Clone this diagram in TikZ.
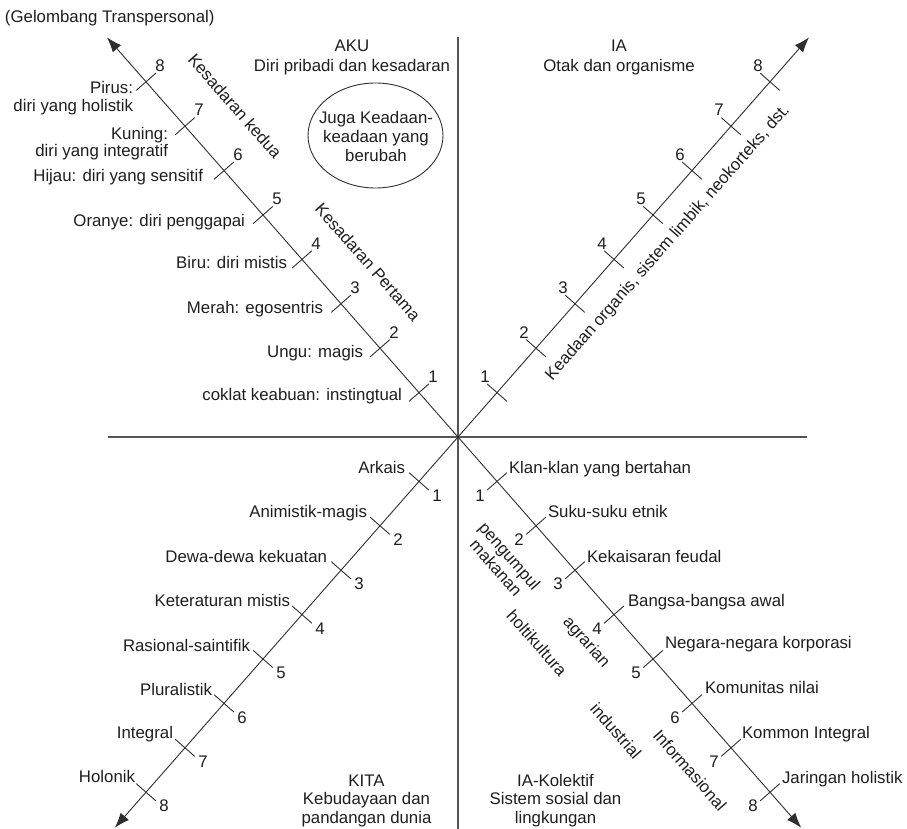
\documentclass[tikz,border=0pt]{standalone}
\usepackage{fontspec}
\setmainfont{Liberation Sans}
\usetikzlibrary{arrows.meta,calc,shapes.geometric}
\definecolor{inkline}{HTML}{2E2E2E}
\definecolor{inkrule}{HTML}{555555}
\definecolor{inktext}{HTML}{1E1E1E}
\begin{document}
\begin{tikzpicture}[x=1pt,y=-1pt,
  txt/.style={inner sep=0pt, outer sep=0pt, text=inktext, font=\fontsize{16.8}{19.5}\selectfont},
  heading/.style={txt, align=center, anchor=base},
  lbl/.style={txt, font=\fontsize{16.8}{17.5}\selectfont},
  lblL/.style={lbl, align=right, anchor=base east},
  lblR/.style={lbl, align=left, anchor=base west},
  num/.style={txt},
  slantdown/.style={txt, rotate=-48.7, align=center, font=\fontsize{16.8}{18}\selectfont},
  slantup/.style={txt, rotate=48.7},
  axis/.style={draw=inkline, line width=0.9pt, -{Latex[length=15pt,width=11pt]}},
  tickmark/.style={draw=inkline, line width=0.9pt},
  rule/.style={draw=inkrule, line width=1.4pt},
  bubble/.style={draw=inkline, line width=0.9pt},
]
\useasboundingbox (0,0) rectangle (907,829);

% centre of the quadrants and the two dividing rules
\coordinate (O) at (458,437);
\coordinate (rule-top) at (458,37);
\coordinate (rule-bot) at (458,829);
\coordinate (rule-left) at (108,437);
\coordinate (rule-right) at (807,437);
\draw[rule] (rule-top) -- (rule-bot);
\draw[rule] (rule-left) -- (rule-right);

% four diagonal axes; one level step is (39, 44.4)
\path (O) ++(-351,-399.6) coordinate (ul-tip);
\path (O) ++(351,-399.6) coordinate (ur-tip);
\path (O) ++(-343.2,390.7) coordinate (ll-tip);
\path (O) ++(343.2,390.7) coordinate (lr-tip);
\draw[axis] (O) -- (ul-tip);
\draw[axis] (O) -- (ur-tip);
\draw[axis] (O) -- (ll-tip);
\draw[axis] (O) -- (lr-tip);

% level ticks and their numbers
\foreach \k in {1,...,8}{
  \path (O) ++(-39*\k,-44.4*\k) coordinate (ul\k);
  \path (O) ++(39*\k,-44.4*\k) coordinate (ur\k);
  \path (O) ++(-39*\k,44.4*\k) coordinate (ll\k);
  \path (O) ++(39*\k,44.4*\k) coordinate (lr\k);
  \draw[tickmark] ($(ul\k)+(-9.8,8.6)$) -- ($(ul\k)+(9.8,-8.6)$);
  \draw[tickmark] ($(ur\k)+(-9.8,-8.6)$) -- ($(ur\k)+(9.8,8.6)$);
  \draw[tickmark] ($(ll\k)+(-9.8,-8.6)$) -- ($(ll\k)+(9.8,8.6)$);
  \draw[tickmark] ($(lr\k)+(-9.8,8.6)$) -- ($(lr\k)+(9.8,-8.6)$);
  \node[num] (ul-n\k) at ($(ul\k)+(14,-16)$) {\k};
  \node[num] (ur-n\k) at ($(ur\k)+(-12,-16)$) {\k};
  \node[num] (ll-n\k) at ($(ll\k)+(18,14)$) {\k};
  \node[num] (lr-n\k) at ($(lr\k)+(-17,14)$) {\k};
}

% quadrant headings (anchored on the baseline of their last line)
\node[txt, anchor=base west] (wave) at (5,23) {(Gelombang Transpersonal)};
\node[heading, font=\fontsize{16.8}{20}\selectfont] (aku) at (352,72) {AKU\\Diri pribadi dan kesadaran};
\node[heading] (ia) at (619,71.5) {IA\\Otak dan organisme};
\node[heading, font=\fontsize{16.8}{18.5}\selectfont] (kita) at (366.5,823) {KITA\\Kebudayaan dan\\pandangan dunia};
\node[heading, font=\fontsize{16.8}{18.5}\selectfont] (iak) at (555.5,823) {IA-Kolektif\\Sistem sosial dan\\lingkungan};

% states bubble
\node[txt, align=center, font=\fontsize{16.8}{19}\selectfont]
      (states) at (376,136) {Juga Keadaan-\\keadaan yang\\berubah};
\draw[bubble] (375.5,135.5) ellipse [x radius=67.5pt, y radius=52.5pt];

% upper-left levels
\node[lblL] (ul-t1) at (402,400) {coklat keabuan: instingtual};
\node[lblL] (ul-t2) at (363,357) {Ungu: magis};
\node[lblL] (ul-t3) at (323,313) {Merah: egosentris};
\node[lblL] (ul-t4) at (287,268) {Biru: diri mistis};
\node[lblL] (ul-t5) at (245,226) {Oranye: diri penggapai};
\node[lblL] (ul-t6) at (203,182) {Hijau: diri yang sensitif};
\node[lblL] (ul-t7) at (168,157) {Kuning:\\diri yang integratif};
\node[lblL] (ul-t8) at (133,111.5) {Pirus:\\diri yang holistik};
\node[slantdown] (tier2) at (235,106) {Kesadaran kedua};
\node[slantdown] (tier1) at (368,262) {Kesadaran Pertama};

% upper-right axis caption
\node[slantup] (organic) at (668,243) {Keadaan organis, sistem limbik, neokorteks, dst.};

% lower-left levels
\node[lblL] (ll-t1) at (405,473) {Arkais};
\node[lblL] (ll-t2) at (367,517) {Animistik-magis};
\node[lblL] (ll-t3) at (327,562) {Dewa-dewa kekuatan};
\node[lblL] (ll-t4) at (290,606) {Keteraturan mistis};
\node[lblL] (ll-t5) at (250,651) {Rasional-saintifik};
\node[lblL] (ll-t6) at (212,695) {Pluralistik};
\node[lblL] (ll-t7) at (173,738) {Integral};
\node[lblL] (ll-t8) at (135,782) {Holonik};

% lower-right levels
\node[lblR] (lr-t1) at (509,473) {Klan-klan yang bertahan};
\node[lblR] (lr-t2) at (548,517) {Suku-suku etnik};
\node[lblR] (lr-t3) at (587,562) {Kekaisaran feudal};
\node[lblR] (lr-t4) at (628,606) {Bangsa-bangsa awal};
\node[lblR] (lr-t5) at (665,648) {Negara-negara korporasi};
\node[lblR] (lr-t6) at (705,693) {Komunitas nilai};
\node[lblR] (lr-t7) at (742,738) {Kommon Integral};
\node[lblR] (lr-t8) at (782,783) {Jaringan holistik};

% techno-economic bases
\node[slantdown] (forage) at (503,562) {pengumpul\\makanan};
\node[slantdown] (horti) at (537,643) {holtikultura};
\node[slantdown] (agrar) at (586,643) {agrarian};
\node[slantdown] (indus) at (616,731) {industrial};
\node[slantdown] (info) at (690,770) {Informasional};
\end{tikzpicture}
\end{document}
